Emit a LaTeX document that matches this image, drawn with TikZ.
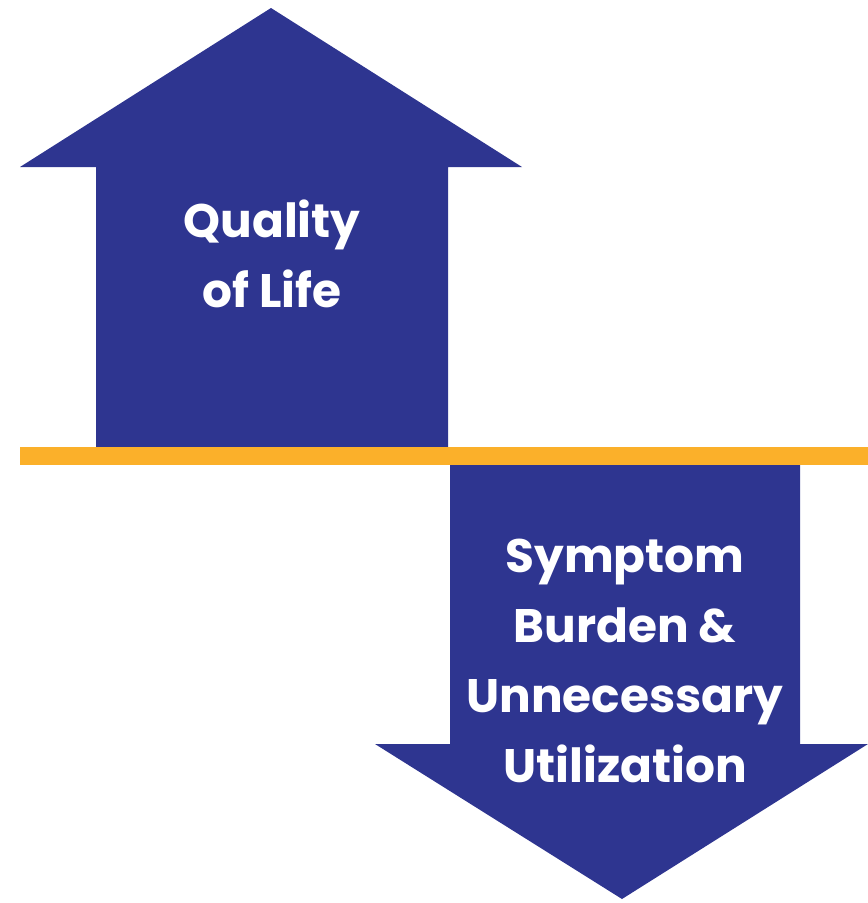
\documentclass[tikz,border=0pt]{standalone}
\usepackage{fontspec}
\setmainfont{Poppins}
\definecolor{arrowblue}{RGB}{46,53,144}
\definecolor{barorange}{RGB}{251,176,42}
\begin{document}
\begin{tikzpicture}[x=1pt,y=-1pt,
  arrowshape/.style={fill=arrowblue,draw=none},
  barshape/.style={fill=barorange,draw=none},
  label/.style={text=white,font=\bfseries\fontsize{47}{70}\selectfont,align=center,inner sep=0pt}]
\useasboundingbox (0,0) rectangle (868,903);
% up arrow
\fill[arrowshape] (271,8) -- (522,167) -- (448,167) -- (448,448) -- (96,448) -- (96,167) -- (20,167) -- cycle;
% down arrow
\fill[arrowshape] (450,464) -- (800,464) -- (800,744) -- (868,744) -- (622,899) -- (375,744) -- (450,744) -- cycle;
% orange bar
\fill[barshape] (20,447) rectangle (868,465);
\node[label] (up) at (272,254) {Quality\\of Life};
\node[label] (down) at (625,661) {Symptom\\Burden \&\\Unnecessary\\Utilization};
\end{tikzpicture}
\end{document}
